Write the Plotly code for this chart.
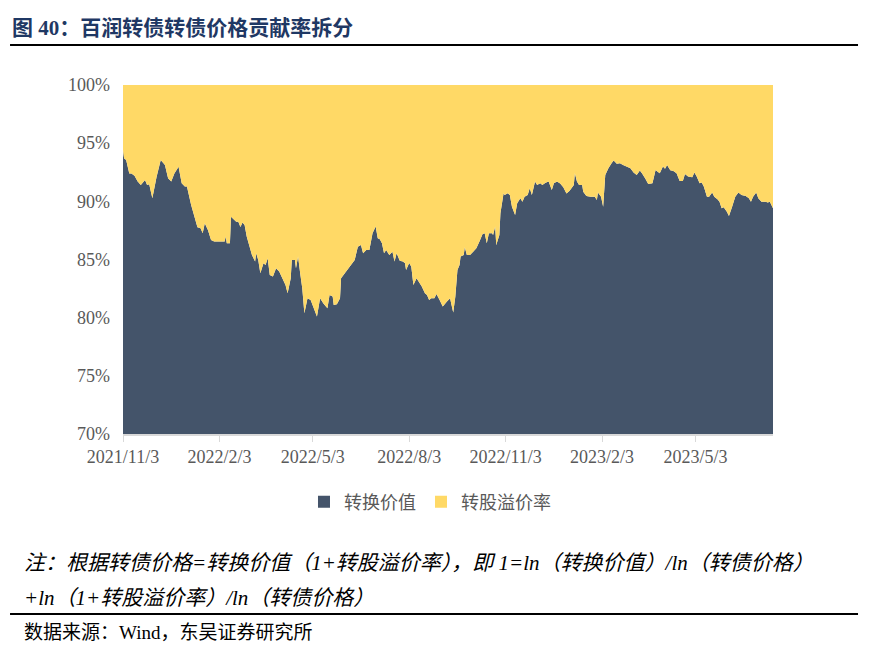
import plotly.graph_objects as go

# ---- data (share of 转换价值 in 转债价格; 转股溢价率 share = 1 - it) ----
dates = [
    "2021-11-03", "2021-11-04", "2021-11-06", "2021-11-09", "2021-11-11", "2021-11-14", "2021-11-17",
    "2021-11-20", "2021-11-24", "2021-11-26", "2021-11-28", "2021-12-01", "2021-12-05", "2021-12-09",
    "2021-12-13", "2021-12-16", "2021-12-19", "2021-12-22", "2021-12-26", "2021-12-29", "2022-01-01",
    "2022-01-03", "2022-01-07", "2022-01-10", "2022-01-13", "2022-01-16", "2022-01-18", "2022-01-20",
    "2022-01-23", "2022-01-26", "2022-01-29", "2022-02-08", "2022-02-09", "2022-02-10", "2022-02-13",
    "2022-02-14", "2022-02-17", "2022-02-19", "2022-02-21", "2022-02-23", "2022-02-25", "2022-02-27",
    "2022-03-01", "2022-03-04", "2022-03-06", "2022-03-09", "2022-03-10", "2022-03-12", "2022-03-14",
    "2022-03-17", "2022-03-19", "2022-03-21", "2022-03-23", "2022-03-26", "2022-03-29", "2022-04-01",
    "2022-04-05", "2022-04-07", "2022-04-09", "2022-04-12", "2022-04-13", "2022-04-16", "2022-04-17",
    "2022-04-19", "2022-04-21", "2022-04-23", "2022-04-25", "2022-04-28", "2022-05-01", "2022-05-03",
    "2022-05-05", "2022-05-07", "2022-05-10", "2022-05-13", "2022-05-17", "2022-05-19", "2022-05-22",
    "2022-05-23", "2022-05-26", "2022-05-29", "2022-05-30", "2022-06-03", "2022-06-06", "2022-06-09",
    "2022-06-12", "2022-06-15", "2022-06-18", "2022-06-20", "2022-06-23", "2022-06-26", "2022-06-29",
    "2022-07-02", "2022-07-04", "2022-07-06", "2022-07-08", "2022-07-10", "2022-07-12", "2022-07-15",
    "2022-07-18", "2022-07-20", "2022-07-22", "2022-07-25", "2022-07-28", "2022-07-30", "2022-07-31",
    "2022-08-03", "2022-08-05", "2022-08-07", "2022-08-10", "2022-08-12", "2022-08-15", "2022-08-18",
    "2022-08-20", "2022-08-22", "2022-08-24", "2022-08-27", "2022-08-29", "2022-09-01", "2022-09-04",
    "2022-09-08", "2022-09-11", "2022-09-12", "2022-09-14", "2022-09-16", "2022-09-18", "2022-09-20",
    "2022-09-21", "2022-09-24", "2022-09-25", "2022-09-27", "2022-09-30", "2022-10-03", "2022-10-06",
    "2022-10-09", "2022-10-12", "2022-10-14", "2022-10-16", "2022-10-18", "2022-10-21", "2022-10-22",
    "2022-10-24", "2022-10-25", "2022-10-28", "2022-10-29", "2022-11-01", "2022-11-02", "2022-11-05",
    "2022-11-07", "2022-11-09", "2022-11-12", "2022-11-14", "2022-11-17", "2022-11-19", "2022-11-21",
    "2022-11-24", "2022-11-26", "2022-11-28", "2022-12-01", "2022-12-03", "2022-12-06", "2022-12-08",
    "2022-12-11", "2022-12-14", "2022-12-17", "2022-12-19", "2022-12-22", "2022-12-25", "2022-12-28",
    "2022-12-31", "2023-01-03", "2023-01-07", "2023-01-08", "2023-01-10", "2023-01-12", "2023-01-15",
    "2023-01-16", "2023-01-19", "2023-01-23", "2023-01-27", "2023-01-29", "2023-01-30", "2023-02-02",
    "2023-02-04", "2023-02-06", "2023-02-09", "2023-02-12", "2023-02-14", "2023-02-17", "2023-02-20",
    "2023-02-23", "2023-02-27", "2023-03-02", "2023-03-05", "2023-03-08", "2023-03-11", "2023-03-13",
    "2023-03-16", "2023-03-19", "2023-03-23", "2023-03-26", "2023-03-28", "2023-03-30", "2023-04-02",
    "2023-04-04", "2023-04-06", "2023-04-09", "2023-04-12", "2023-04-15", "2023-04-18", "2023-04-21",
    "2023-04-23", "2023-04-26", "2023-04-30", "2023-05-02", "2023-05-04", "2023-05-07", "2023-05-09",
    "2023-05-11", "2023-05-14", "2023-05-16", "2023-05-19", "2023-05-21", "2023-05-24", "2023-05-26",
    "2023-05-28", "2023-05-30", "2023-06-02", "2023-06-04", "2023-06-07", "2023-06-10", "2023-06-13",
    "2023-06-16", "2023-06-20", "2023-06-23", "2023-06-25", "2023-06-27", "2023-06-30", "2023-07-02",
    "2023-07-05", "2023-07-09", "2023-07-11", "2023-07-13", "2023-07-16",
]

conversion_value_pct = [
    94.42, 93.70, 93.56, 92.40, 92.40, 92.20, 91.70,
    91.40, 91.84, 91.40, 91.47, 90.27, 92.10, 93.56,
    93.13, 91.98, 91.70, 92.40, 92.98, 91.56, 91.27,
    91.27, 89.69, 88.68, 87.77, 87.68, 87.26, 88.12,
    87.54, 86.68, 86.54, 86.54, 86.97, 86.39, 86.39,
    88.68, 88.40, 88.25, 88.25, 87.80, 88.17, 87.97,
    86.97, 85.97, 85.39, 84.82, 85.54, 84.96, 83.82,
    84.68, 84.53, 85.10, 83.67, 83.53, 84.25, 83.96,
    83.10, 82.81, 82.10, 83.39, 84.96, 84.96, 84.25,
    85.25, 83.82, 82.53, 80.38, 81.67, 81.52, 81.09,
    80.66, 80.09, 81.67, 81.24, 80.81, 81.95, 81.81,
    81.09, 81.15, 81.67, 83.39, 83.87, 84.25, 84.53,
    84.96, 86.10, 86.25, 85.54, 85.82, 85.82, 87.26,
    87.83, 86.83, 86.74, 86.40, 85.54, 85.82, 85.39,
    85.67, 84.82, 85.54, 84.90, 84.82, 84.68, 84.10,
    84.70, 84.38, 82.81, 83.39, 83.10, 82.67, 82.10,
    81.95, 81.52, 81.67, 81.67, 82.04, 81.52, 80.95,
    81.38, 81.67, 81.24, 80.44, 81.81, 84.10, 84.53,
    85.25, 85.39, 86.05, 85.39, 85.39, 85.67, 85.97,
    86.54, 87.20, 87.26, 86.40, 87.26, 87.26, 87.11,
    87.83, 86.25, 87.11, 88.97, 90.70, 90.55, 90.70,
    90.55, 89.54, 88.83, 89.83, 90.27, 89.97, 90.40,
    90.55, 91.13, 90.55, 91.70, 91.41, 91.56, 91.41,
    91.60, 91.70, 90.98, 91.56, 91.70, 91.53, 91.20,
    90.67, 90.90, 91.41, 92.42, 91.70, 91.41, 91.41,
    90.83, 90.46, 90.40, 90.40, 90.12, 90.75, 90.40,
    89.54, 92.27, 92.85, 93.27, 93.50, 93.22, 93.27,
    93.13, 92.98, 92.85, 92.47, 92.27, 92.64, 92.42,
    91.98, 91.50, 91.56, 92.70, 92.55, 92.42, 93.00,
    92.80, 93.13, 92.67, 92.60, 92.42, 91.75, 91.75,
    92.36, 92.13, 92.07, 92.47, 92.18, 91.56, 91.61,
    91.27, 90.40, 90.40, 90.75, 90.40, 90.18, 89.97,
    89.40, 89.49, 89.11, 88.74, 89.54, 90.40, 90.75,
    90.55, 90.46, 90.27, 89.97, 90.40, 90.75, 90.27,
    89.97, 89.97, 89.89, 89.97, 89.40,
]

tick_dates = ["2021-11-03", "2022-02-03", "2022-05-03", "2022-08-03",
              "2022-11-03", "2023-02-03", "2023-05-03"]
tick_labels = ["2021/11/3", "2022/2/3", "2022/5/3", "2022/8/3",
               "2022/11/3", "2023/2/3", "2023/5/3"]

series_names = ["转换价值", "转股溢价率"]
colors = ["#44546A", "#FFD966"]

conv = [v / 100 for v in conversion_value_pct]
prem = [1 - v for v in conv]

SERIF = "Liberation Serif, Noto Sans CJK SC, serif"
CJK = "Liberation Serif, Noto Sans CJK SC, sans-serif"

fig = go.Figure()
for name, ys, c in zip(series_names, [conv, prem], colors):
    fig.add_trace(go.Scatter(
        x=dates, y=ys, name=name, mode="lines",
        stackgroup="one", line=dict(width=0, color=c),
        fillcolor=c, hoverinfo="x+y", showlegend=False, legendgroup=name,
    ))
# legend entries drawn as square swatches
for name, c in zip(series_names, colors):
    fig.add_trace(go.Scatter(
        x=[None], y=[None], name=name, mode="markers", legendgroup=name,
        marker=dict(symbol="square", size=12, color=c),
    ))

fig.update_layout(
    width=874, height=658,
    margin=dict(l=123, r=101, t=85, b=224),
    paper_bgcolor="white", plot_bgcolor="white",
    showlegend=True,
    legend=dict(orientation="h", x=0.4723, xanchor="center", y=-0.195, yanchor="middle",
                font=dict(family=CJK, size=18, color="#595959"),
                itemwidth=30, traceorder="normal", itemclick=False, itemdoubleclick=False),
    xaxis=dict(
        type="date", range=["2021-11-03", "2023-07-16"],
        tickvals=tick_dates, ticktext=tick_labels,
        showline=True, linecolor="#D9D9D9", linewidth=1.5,
        ticks="outside", ticklen=6, tickcolor="#D9D9D9",
        showgrid=False, zeroline=False,
        tickfont=dict(family=SERIF, size=18, color="#595959"),
    ),
    yaxis=dict(
        range=[0.70, 1.0], tickvals=[0.70, 0.75, 0.80, 0.85, 0.90, 0.95, 1.0],
        tickformat=".0%", showgrid=False, zeroline=False, showline=False,
        ticks="", ticklabelstandoff=12,
        tickfont=dict(family=SERIF, size=18, color="#595959"),
    ),
)

annotations = [
    dict(text="<b>图 40：百润转债转债价格贡献率拆分</b>", x=-0.1738, y=1.1633,
         xanchor="left", yanchor="middle",
         font=dict(family=CJK, size=21, color="#1F3864")),
    dict(text="<i>注：根据转债价格=转换价值（1+转股溢价率），即 1=ln（转换价值）/ln（转债价格）</i>",
         x=-0.1554, y=-0.3696, xanchor="left", yanchor="middle",
         font=dict(family=CJK, size=21, color="#000000")),
    dict(text="<i>+ln（1+转股溢价率）/ln（转债价格）</i>",
         x=-0.1554, y=-0.4699, xanchor="left", yanchor="middle",
         font=dict(family=CJK, size=21, color="#000000")),
    dict(text="数据来源：Wind，东吴证券研究所",
         x=-0.1554, y=-0.5702, xanchor="left", yanchor="middle",
         font=dict(family=CJK, size=19, color="#000000")),
]
for a in annotations:
    a.update(xref="paper", yref="paper", showarrow=False)
fig.update_layout(annotations=annotations)

fig.add_shape(type="line", xref="paper", yref="paper", x0=-0.1738, x1=1.1308,
              y0=1.1146, y1=1.1146, line=dict(color="black", width=2))
fig.add_shape(type="line", xref="paper", yref="paper", x0=-0.1738, x1=1.1308,
              y0=-0.5158, y1=-0.5158, line=dict(color="black", width=2))

fig.write_html("out.html", config={"displayModeBar": False},
               post_script="document.body.style.margin='0';document.body.style.overflow='hidden';")
